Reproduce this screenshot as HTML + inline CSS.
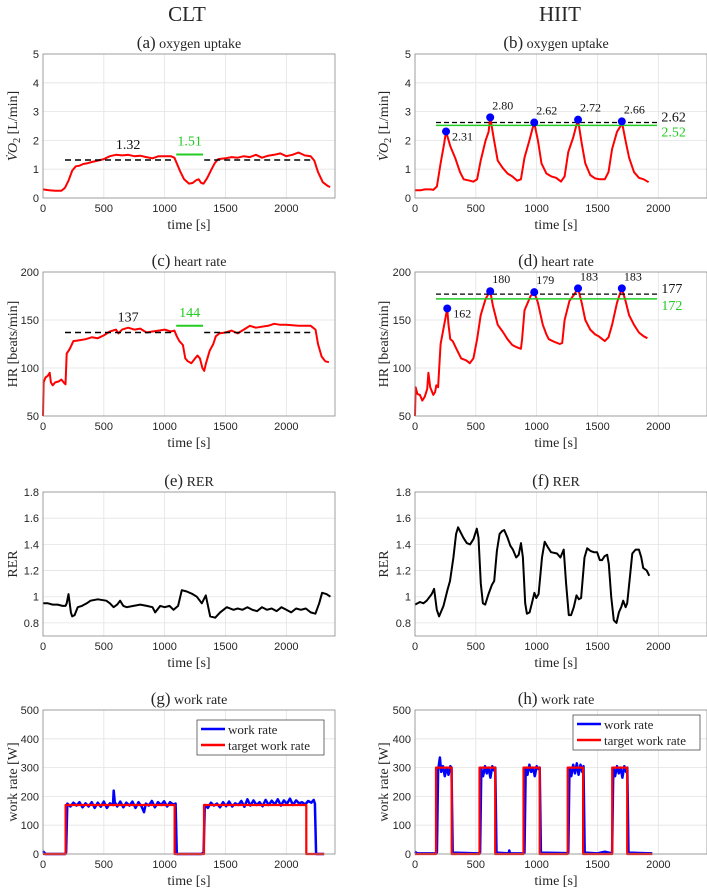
<!DOCTYPE html>
<html><head><meta charset="utf-8"><style>
html,body{margin:0;padding:0;background:#fff;}
svg{display:block;}
.tk{font-family:"Liberation Sans",sans-serif;font-size:11px;fill:#262626;}
.sf{font-family:"Liberation Serif",serif;fill:#262626;}
</style></head><body>
<svg id="fig" width="707" height="889" viewBox="0 0 707 889" xmlns="http://www.w3.org/2000/svg">
<text class="sf" x="187" y="21" font-size="21" text-anchor="middle">CLT</text>
<text class="sf" x="560" y="21" font-size="21" text-anchor="middle">HIIT</text>
</svg>
<script>
// ---- data ----
const aTime=[0,50,100,150,180,210,240,270,300,330,360,400,450,500,550,600,650,700,750,800,850,900,950,1000,1050,1080,1100,1130,1160,1200,1230,1260,1280,1300,1320,1350,1380,1410,1440,1500,1550,1600,1650,1700,1750,1800,1850,1900,1950,2000,2050,2100,2150,2200,2230,2260,2300,2340,2360];
const aVO2=[0.3,0.27,0.25,0.25,0.35,0.6,0.95,1.1,1.12,1.18,1.2,1.25,1.3,1.35,1.45,1.5,1.48,1.5,1.45,1.47,1.42,1.38,1.45,1.45,1.45,1.4,1.2,0.9,0.65,0.5,0.52,0.62,0.65,0.52,0.5,0.7,0.95,1.2,1.35,1.38,1.42,1.4,1.45,1.42,1.5,1.4,1.47,1.5,1.55,1.45,1.5,1.58,1.48,1.45,1.3,0.9,0.55,0.42,0.38];
const aMeans=[1.32,1.51];
const bTime=[0,50,80,130,150,180,210,240,255,290,330,370,400,450,480,510,540,580,605,618,650,680,720,760,800,840,870,900,940,965,980,1010,1040,1080,1120,1160,1200,1230,1260,1300,1325,1340,1370,1400,1440,1480,1520,1560,1590,1620,1660,1690,1700,1730,1760,1800,1840,1880,1920];
const bVO2=[0.27,0.27,0.3,0.3,0.28,0.4,1.2,1.9,2.31,1.8,1.4,0.9,0.65,0.6,0.57,0.65,1.3,2.0,2.3,2.8,2.0,1.3,1.05,0.85,0.75,0.6,0.65,1.4,2.0,2.4,2.62,2.0,1.2,0.85,0.75,0.7,0.57,0.75,1.6,2.1,2.5,2.72,1.9,1.2,0.8,0.68,0.65,0.65,0.9,1.7,2.3,2.5,2.66,2.0,1.4,0.9,0.7,0.65,0.55];
const bPeakTime=[255,618,980,1340,1700];
const bPeakVal=[2.31,2.80,2.62,2.72,2.66];
const bMeans=[2.62,2.52];
const cTime=[0,5,20,40,55,65,80,100,130,150,170,185,195,220,250,300,350,400,450,500,550,600,620,650,700,750,800,850,900,950,1000,1050,1080,1100,1120,1150,1170,1190,1220,1250,1270,1290,1310,1325,1340,1370,1400,1420,1450,1500,1550,1600,1650,1700,1750,1800,1850,1900,1950,2000,2100,2200,2240,2260,2290,2320,2350];
const cHR=[50,85,90,92,95,85,82,85,86,88,85,83,115,120,128,129,130,132,131,134,138,140,136,140,142,140,141,137,138,139,140,138,139,133,128,124,110,107,105,110,113,110,100,97,105,118,125,133,136,137,139,136,140,144,142,143,144,146,145,145,144,144,140,125,112,107,106];
const cMeans=[137,144];
const dTime=[0,5,20,40,60,80,100,110,125,150,165,175,190,210,240,265,275,290,310,340,380,420,450,480,510,540,580,618,640,680,720,760,800,830,870,880,900,950,980,1010,1050,1080,1100,1150,1190,1210,1230,1270,1310,1340,1370,1400,1440,1480,1510,1540,1560,1590,1620,1660,1700,1730,1760,1800,1840,1880,1910];
const dHR=[50,80,73,72,66,70,78,95,80,72,75,82,80,125,145,162,145,130,128,120,110,108,105,110,130,155,172,180,165,145,138,130,124,122,120,130,160,175,179,168,145,135,130,127,125,126,150,170,177,183,168,150,140,135,133,130,128,132,145,168,183,170,155,145,137,133,131];
const dPeakTime=[265,618,980,1340,1700];
const dPeakVal=[162,180,179,183,183];
const dMeans=[177,172];
const eTime=[0,40,80,120,160,185,195,210,229,240,260,285,320,360,390,450,520,550,580,610,634,660,689,744,800,853,900,922,963,1000,1040,1073,1110,1141,1182,1230,1264,1305,1338,1374,1415,1456,1511,1566,1600,1640,1680,1720,1760,1800,1840,1880,1920,1960,2000,2040,2080,2120,2160,2200,2239,2270,2294,2330,2362];
const eRER=[0.95,0.95,0.94,0.94,0.93,0.93,0.95,1.02,0.88,0.85,0.86,0.92,0.93,0.95,0.97,0.98,0.97,0.95,0.92,0.94,0.97,0.93,0.92,0.93,0.94,0.93,0.92,0.88,0.93,0.92,0.93,0.9,0.93,1.05,1.04,1.02,1.0,0.95,1.01,0.85,0.84,0.88,0.92,0.9,0.91,0.9,0.92,0.9,0.89,0.92,0.9,0.91,0.89,0.92,0.9,0.88,0.91,0.9,0.91,0.88,0.87,0.95,1.03,1.02,1.0];
const fTime=[0,41,69,96,137,157,179,198,234,266,288,316,338,354,371,398,426,453,481,508,522,541,558,577,604,632,651,673,695,714,733,761,783,805,832,852,871,887,906,920,942,961,981,997,1016,1044,1066,1091,1118,1167,1195,1222,1242,1264,1283,1305,1327,1346,1365,1393,1415,1442,1470,1497,1519,1538,1558,1580,1593,1613,1634,1656,1676,1695,1711,1731,1744,1766,1786,1813,1840,1860,1876,1904,1926];
const fRER=[0.94,0.96,0.95,0.97,1.02,1.06,0.9,0.85,0.93,1.05,1.12,1.3,1.48,1.53,1.5,1.45,1.41,1.4,1.44,1.52,1.45,1.1,0.95,0.94,1.02,1.09,1.12,1.35,1.48,1.5,1.51,1.45,1.39,1.36,1.3,1.32,1.41,1.3,0.95,0.87,0.88,0.95,1.03,0.99,1.02,1.3,1.42,1.38,1.34,1.33,1.3,1.36,1.1,0.86,0.86,0.92,1.01,0.98,0.99,1.3,1.37,1.35,1.34,1.34,1.28,1.28,1.31,1.32,1.25,1.0,0.82,0.8,0.88,0.92,0.97,0.92,0.95,1.15,1.33,1.36,1.36,1.3,1.22,1.2,1.16];
const gTime=[0,10,20,180,190,200,225,250,275,300,325,350,375,400,425,450,475,500,525,550,575,581,590,610,635,660,685,710,735,760,785,810,830,845,870,895,920,945,970,995,1020,1045,1070,1090,1100,1300,1320,1330,1355,1380,1405,1430,1455,1480,1505,1530,1555,1580,1605,1630,1655,1680,1705,1730,1755,1780,1805,1830,1855,1880,1905,1930,1955,1980,2005,2030,2055,2080,2105,2130,2155,2180,2205,2225,2235,2245,2310];
const gWork=[10,5,0,0,5,175,165,178,168,180,162,176,165,180,160,178,164,182,160,176,170,220,180,165,182,162,178,168,182,160,180,165,145,175,168,184,162,180,170,183,165,180,172,175,0,0,5,170,160,178,168,175,162,180,166,182,165,176,170,184,164,190,168,186,170,180,166,188,170,185,172,190,168,186,174,192,170,186,176,180,172,184,178,188,175,0,0];
const gTargetTime=[0,186,186,1082,1082,1323,1323,2164,2164,2310];
const gTarget=[0,0,170,170,0,0,170,170,0,0];
const hTime=[0,10,20,170, 180,190,205,215,230,245,260,275,290,300, 310,520, 535,545,560,575,590,605,620,635,650,660, 670,770,775,780,890, 900,910,925,940,955,970,985,1000,1015,1025, 1035,1250, 1260,1270,1285,1300,1315,1330,1345,1360,1375,1385, 1395,1500,1560,1610, 1620,1630,1645,1660,1675,1690,1705,1720,1735,1745, 1755,1950];
const hWork=[8,4,2,2, 5,290,335,285,305,270,300,275,305,300, 5,2, 5,295,270,305,280,300,265,305,290,300, 5,2,12,2,2, 5,300,275,310,285,300,270,305,295,300, 5,3, 5,300,270,310,280,315,275,310,285,305, 5,2,8,3, 5,300,270,305,280,300,265,305,285,300, 5,2];
const hTargetTime=[0,173,173,302,302,530,530,659,659,892,892,1025,1025,1255,1255,1382,1382,1621,1621,1744,1744,1950];
const hTarget=[0,0,300,300,0,0,300,300,0,0,300,300,0,0,300,300,0,0,300,300,0,0];
const xTicks=[0,500,1000,1500,2000];
const yTicksVO2=[0,1,2,3,4,5];
const yTicksHR=[50,100,150,200];
const yTicksRER=[0.8,1,1.2,1.4,1.6,1.8];
const yTickLabelsRER=["0.8","1","1.2","1.4","1.6","1.8"];
const yTicksWork=[0,100,200,300,400,500];

// ---- drawing ----
const NS="http://www.w3.org/2000/svg";
const svg=document.getElementById('fig');
function mk(tag,attrs,parent){const e=document.createElementNS(NS,tag);for(const k in attrs)e.setAttribute(k,attrs[k]);(parent||svg).appendChild(e);return e;}
const COLS=[43,415], W=292, ROWS=[54,272,492,710], H=144;
function panel(col,row,ymin,ymax,yt,ytl,letter,title,ylabel,name){
  const x0=COLS[col], y0=ROWS[row];
  const g=mk('g',{});
  
  
  const sx=t=>x0+t/2400*W, sy=v=>y0+H-(v-ymin)/(ymax-ymin)*H;
  xTicks.forEach(t=>{const l=mk('line',{x1:sx(t),x2:sx(t),y1:y0,y2:y0+H,stroke:'#e3e3e3','stroke-width':0.8},g);
    
    const tx=mk('text',{x:sx(t),y:y0+H+14,'text-anchor':'middle',class:'tk'},g);tx.textContent=t;
    });
  yt.forEach((v,i)=>{const l=mk('line',{x1:x0,x2:x0+W,y1:sy(v),y2:sy(v),stroke:'#e3e3e3','stroke-width':0.8},g);
    
    const tx=mk('text',{x:x0-4,y:sy(v)+4,'text-anchor':'end',class:'tk'},g);tx.textContent=ytl?ytl[i]:v;
    });
  const tt=mk('text',{x:x0+W/2-(col?5:0),y:y0-6,'text-anchor':'middle',class:'sf','font-size':14},g);
  tt.innerHTML='<tspan font-size="17">('+letter+')</tspan> '+title;
  
  const xl=mk('text',{x:x0+W/2-(col?5:0),y:y0+H+31,'text-anchor':'middle',class:'sf','font-size':14},g);xl.textContent='time [s]';
  
  const yx=col?388:17, yc=y0+H/2;
  const yl=mk('text',{x:yx,y:yc,'text-anchor':'middle',class:'sf','font-size':14,transform:'rotate(-90 '+yx+' '+yc+')'},g);
  yl.innerHTML=ylabel;
  
  return {g,sx,sy,x0,y0};
}
function line(p,ts,vs,color,w,name,dash){
  const n=Math.min(ts.length,vs.length);let d='';
  for(let i=0;i<n;i++)d+=(i?'L':'M')+p.sx(ts[i]).toFixed(1)+','+p.sy(vs[i]).toFixed(1);
  const e=mk('path',{d:d,fill:'none',stroke:color,'stroke-width':w,'stroke-linejoin':'round'},p.g);
  if(dash)e.setAttribute('stroke-dasharray',dash);
  
  
  return e;
}
function hline(p,t1,t2,v,color,w,name,dash){return line(p,[t1,t2],[v,v],color,w,name,dash);}
function label(p,x,y,txt,color,size,name,anchor){const e=mk('text',{x:x,y:y,class:'sf','font-size':size,fill:color,'text-anchor':anchor||'middle'},p.g);e.textContent=txt;e.style.fill=color;
  return e;}
function box(p){const r=mk('rect',{x:p.x0,y:p.y0,width:W,height:H,fill:'none',stroke:'#8a8a8a','stroke-width':0.8},p.g);
  }
const GREEN='#22cc22', VO2L='<tspan font-style="italic">V&#775;O</tspan><tspan font-size="10" dy="3">2</tspan><tspan dy="-3"> [L/min]</tspan>';

// (a)
let p=panel(0,0,0,5,yTicksVO2,null,'a','oxygen uptake',VO2L,'panel-a-clt-oxygen-uptake');
line(p,aTime,aVO2,'#ff0000',2,'vo2-line');
hline(p,181,1060,aMeans[0],'#000',1.5,'mean-vo2-line-1','6,4');
hline(p,1325,2210,aMeans[0],'#000',1.5,'mean-vo2-line-2','6,4');
hline(p,1095,1315,aMeans[1],GREEN,2,'peak-mean-vo2-line');
label(p,p.sx(700),p.sy(aMeans[0])-11,aMeans[0].toFixed(2),'#111',14,'mean-vo2-label');
label(p,p.sx(1205),p.sy(aMeans[1])-9,aMeans[1].toFixed(2),GREEN,14,'peak-vo2-label');
box(p);
// (b)
p=panel(1,0,0,5,yTicksVO2,null,'b','oxygen uptake',VO2L,'panel-b-hiit-oxygen-uptake');
line(p,bTime,bVO2,'#ff0000',2,'vo2-line');
hline(p,173,1990,bMeans[0],'#000',1.2,'mean-peak-vo2-line','5,3');
hline(p,173,1990,bMeans[1],GREEN,1.5,'mean-vo2-line');
label(p,p.sx(2000)+3,p.sy(bMeans[0])-1,bMeans[0].toFixed(2),'#111',14,'mean-peak-vo2-label','start');
label(p,p.sx(2000)+3,p.sy(bMeans[1])+11,bMeans[1].toFixed(2),GREEN,14,'mean-vo2-label','start');
bPeakTime.forEach((t,i)=>{const c=mk('circle',{cx:p.sx(t),cy:p.sy(bPeakVal[i]),r:4,fill:'#0000ff'},p.g);
  
  if(i===0)label(p,p.sx(t)+6,p.sy(bPeakVal[i])+9,bPeakVal[i].toFixed(2),'#111',12,'peak-label','start');
  else label(p,p.sx(t)+2,p.sy(bPeakVal[i])-8,bPeakVal[i].toFixed(2),'#111',12,'peak-label','start');});
box(p);
// (c)
p=panel(0,1,50,200,yTicksHR,null,'c','heart rate','HR [beats/min]','panel-c-clt-heart-rate');
line(p,cTime,cHR,'#ff0000',2,'hr-line');
hline(p,181,1060,cMeans[0],'#000',1.5,'mean-hr-line-1','6,4');
hline(p,1325,2210,cMeans[0],'#000',1.5,'mean-hr-line-2','6,4');
hline(p,1095,1315,cMeans[1],GREEN,2,'peak-mean-hr-line');
label(p,p.sx(700),p.sy(cMeans[0])-11,cMeans[0],'#111',14,'mean-hr-label');
label(p,p.sx(1205),p.sy(cMeans[1])-9,cMeans[1],GREEN,14,'peak-hr-label');
box(p);
// (d)
p=panel(1,1,50,200,yTicksHR,null,'d','heart rate','HR [beats/min]','panel-d-hiit-heart-rate');
line(p,dTime,dHR,'#ff0000',2,'hr-line');
hline(p,173,1990,dMeans[0],'#000',1.2,'mean-peak-hr-line','5,3');
hline(p,173,1990,dMeans[1],GREEN,1.5,'mean-hr-line');
label(p,p.sx(2000)+3,p.sy(dMeans[0])-1,dMeans[0],'#111',14,'mean-peak-hr-label','start');
label(p,p.sx(2000)+3,p.sy(dMeans[1])+11,dMeans[1],GREEN,14,'mean-hr-label','start');
dPeakTime.forEach((t,i)=>{const c=mk('circle',{cx:p.sx(t),cy:p.sy(dPeakVal[i]),r:4,fill:'#0000ff'},p.g);
  
  if(i===0)label(p,p.sx(t)+6,p.sy(dPeakVal[i])+9,dPeakVal[i],'#111',12,'peak-label','start');
  else label(p,p.sx(t)+2,p.sy(dPeakVal[i])-8,dPeakVal[i],'#111',12,'peak-label','start');});
box(p);
// (e)
p=panel(0,2,0.7,1.8,yTicksRER,yTickLabelsRER,'e','RER','RER','panel-e-clt-rer');
line(p,eTime,eRER,'#000',2,'rer-line');box(p);
// (f)
p=panel(1,2,0.7,1.8,yTicksRER,yTickLabelsRER,'f','RER','RER','panel-f-hiit-rer');
line(p,fTime,fRER,'#000',2,'rer-line');box(p);
// (g) and (h)
function legend(p,x,y,w){const g=mk('g',{},p.g);
  
  const r=mk('rect',{x:x,y:y,width:w,height:35,fill:'#fff',stroke:'#333','stroke-width':0.7},g);
  
  [['work rate','#0000ff',11],['target work rate','#ff0000',27]].forEach(a=>{
    const l=mk('line',{x1:x+4,x2:x+28,y1:y+a[2]-2,y2:y+a[2]-2,stroke:a[1],'stroke-width':2.5},g);
    
    const t=mk('text',{x:x+31,y:y+a[2]+3,class:'sf','font-size':13},g);t.textContent=a[0];
    });}
p=panel(0,3,0,500,yTicksWork,null,'g','work rate','work rate [W]','panel-g-clt-work-rate');
line(p,gTime,gWork,'#0000ff',2.5,'work-rate-line');
line(p,gTargetTime,gTarget,'#ff0000',2.2,'target-work-rate-line');
legend(p,197,720,127);box(p);
p=panel(1,3,0,500,yTicksWork,null,'h','work rate','work rate [W]','panel-h-hiit-work-rate');
line(p,hTime,hWork,'#0000ff',2.5,'work-rate-line');
line(p,hTargetTime,hTarget,'#ff0000',2.2,'target-work-rate-line');
legend(p,573,715,127);box(p);
</script>
</body></html>
